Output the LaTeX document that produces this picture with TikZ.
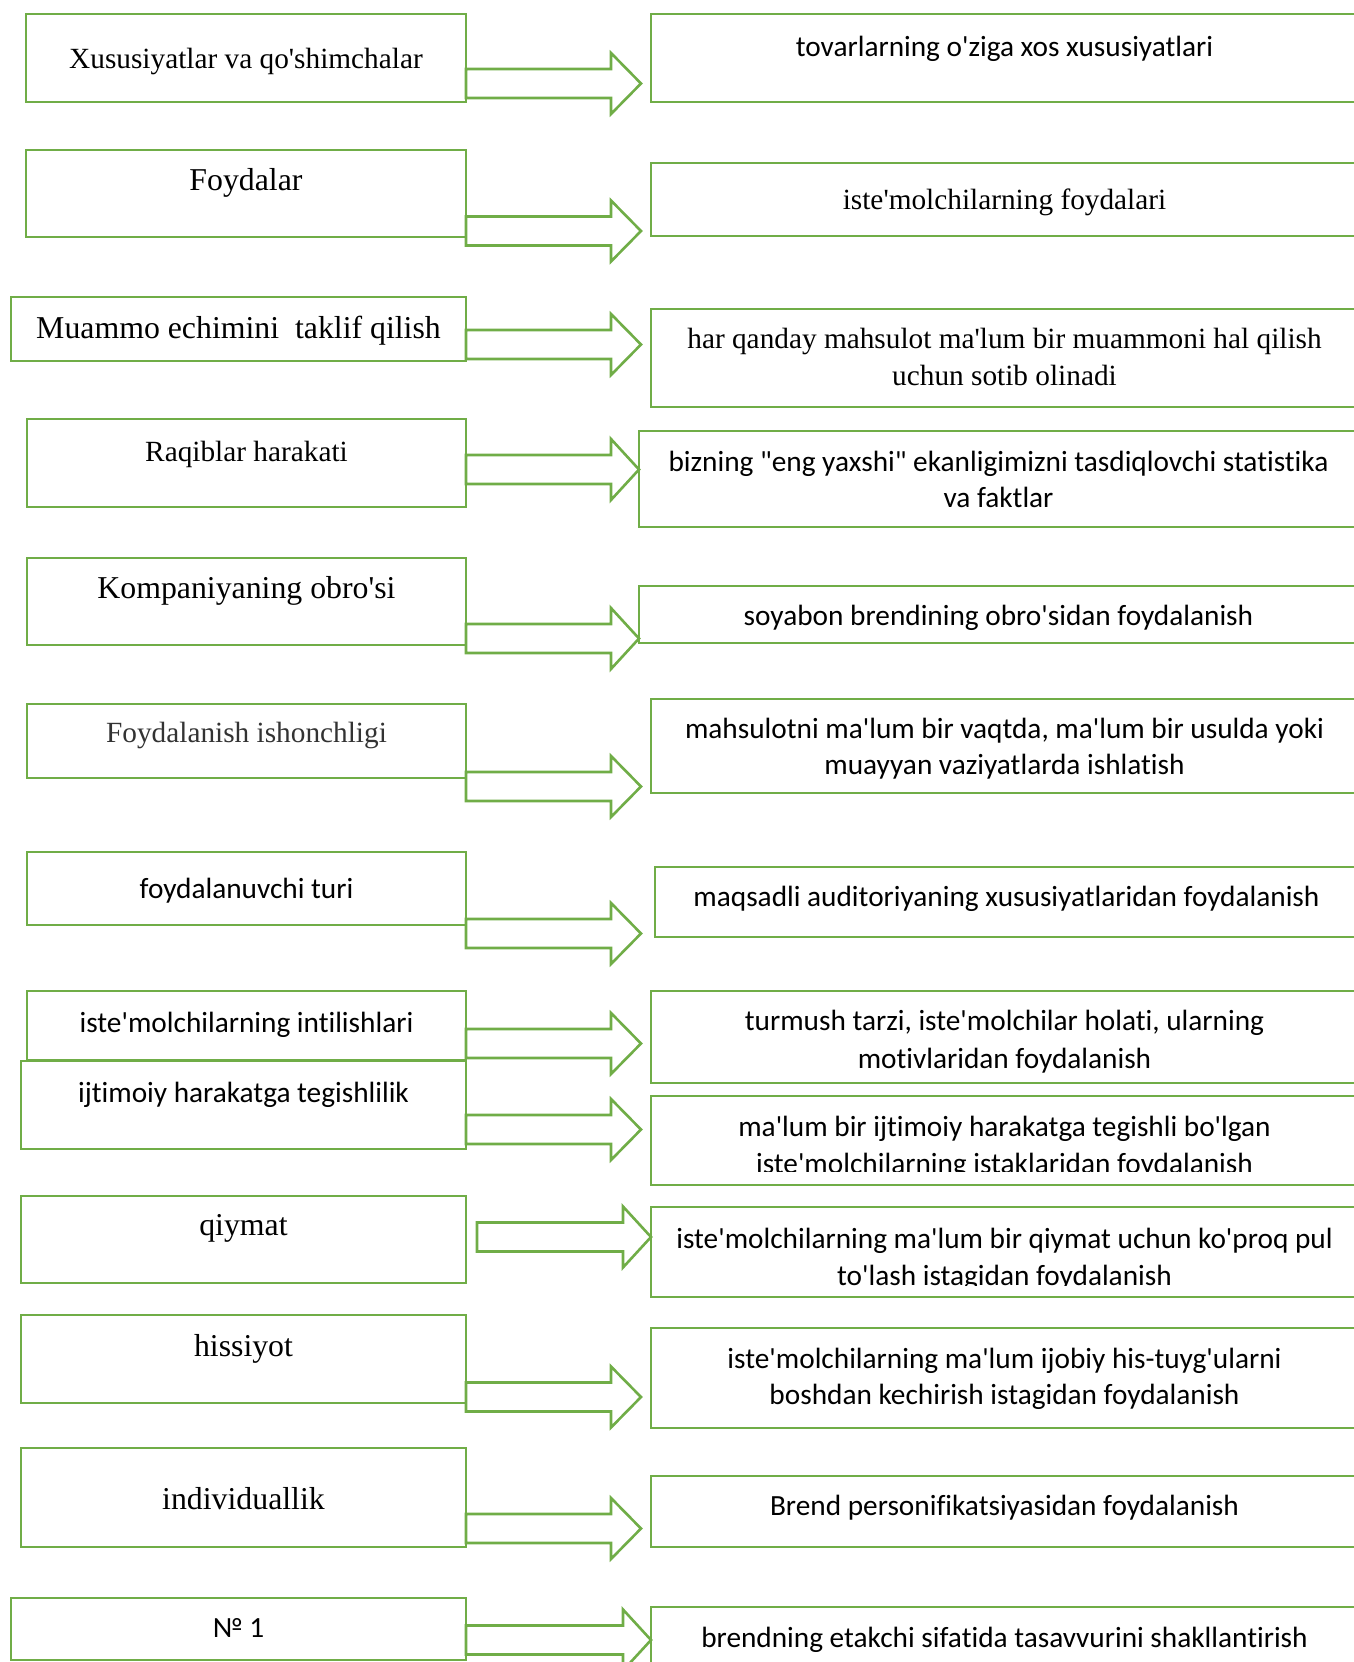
\documentclass[tikz,border=0pt]{standalone}
\usepackage{fontspec}
\usetikzlibrary{calc}
\newfontfamily\tmsfont{Liberation Serif}[Ligatures={TeXOff,NoCommon}]
\newfontfamily\calfont{Carlito}[Ligatures={TeXOff,NoCommon}]
\definecolor{grn}{HTML}{70AD47}
\definecolor{txtgray}{HTML}{333333}

\tikzset{
  box/.style={draw=grn, line width=2.6pt, fill=white, rectangle,
    inner sep=0pt, outer sep=0pt, anchor=north west},
  serA/.style={font=\tmsfont\fontsize{29.3}{36}\selectfont, inner sep=0pt, anchor=base},
  serB/.style={font=\tmsfont\fontsize{31.8}{38}\selectfont, inner sep=0pt, anchor=base},
  san/.style={font=\calfont\fontsize{29.3}{36}\selectfont, inner sep=0pt, anchor=base},
  barrow/.style={draw=grn, line width=2.6pt, fill=white, line join=miter},
}

% block arrow: start point, tip point, head length
\newcommand\blockarrow[3]{%
  \draw[barrow] ($(#1)+(0,-14.5)$) -- ($(#2)+(-#3,-14.5)$) -- ($(#2)+(-#3,-30.5)$)
    -- (#2) -- ($(#2)+(-#3,30.5)$) -- ($(#2)+(-#3,14.5)$) -- ($(#1)+(0,14.5)$) -- cycle;}

\begin{document}
\begin{tikzpicture}[x=1pt, y=-1pt]
\useasboundingbox (0,0) rectangle (1354,1662);
\clip (0,0) rectangle (1354,1662);

% ---- left column ----
\node[box, minimum width=440pt, minimum height=88pt] (L1) at (26,14) {};
\node[box, minimum width=440pt, minimum height=87pt] (L2) at (26,150) {};
\node[box, minimum width=455pt, minimum height=64pt] (L3) at (11,297) {};
\node[box, minimum width=439pt, minimum height=88pt] (L4) at (27,419) {};
\node[box, minimum width=439pt, minimum height=87pt] (L5) at (27,558) {};
\node[box, minimum width=439pt, minimum height=74pt] (L6) at (27,704) {};
\node[box, minimum width=439pt, minimum height=73pt] (L7) at (27,852) {};
\node[box, minimum width=439pt, minimum height=69pt] (L8) at (27,991) {};
\node[box, minimum width=445pt, minimum height=88pt] (L9) at (21,1061) {};
\node[box, minimum width=445pt, minimum height=87pt] (L10) at (21,1196) {};
\node[box, minimum width=445pt, minimum height=88pt] (L11) at (21,1315) {};
\node[box, minimum width=445pt, minimum height=99pt] (L12) at (21,1448) {};
\node[box, minimum width=455pt, minimum height=62pt] (L13) at (11,1598) {};

\node[serA] (L1t) at (L1.north |- 0,68) {Xususiyatlar va qo'shimchalar};
\node[serB] (L2t) at (L2.north |- 0,190) {Foydalar};
\node[serB] (L3t) at (L3.north |- 0,338) {Muammo echimini~ taklif qilish};
\node[serA] (L4t) at (L4.north |- 0,461) {Raqiblar harakati};
\node[serB] (L5t) at (L5.north |- 0,598) {Kompaniyaning obro'si};
\node[serA, text=txtgray] (L6t) at (L6.north |- 0,742) {Foydalanish ishonchligi};
\node[san] (L7t) at (L7.north |- 0,898) {foydalanuvchi turi};
\node[san] (L8t) at (L8.north |- 0,1032) {iste'molchilarning intilishlari};
\node[san] (L9t) at (L9.north |- 0,1102) {ijtimoiy harakatga tegishlilik};
\node[serB] (L10t) at (L10.north |- 0,1235) {qiymat};
\node[serB] (L11t) at (L11.north |- 0,1356) {hissiyot};
\node[serB] (L12t) at (L12.north |- 0,1509) {individuallik};
\node[san] (L13t) at (L13.north |- 0,1637) {№ 1};

% ---- right column ----
\node[box, minimum width=707pt, minimum height=88pt] (R1) at (651,14) {};
\node[box, minimum width=707pt, minimum height=73pt] (R2) at (651,163) {};
\node[box, minimum width=707pt, minimum height=98pt] (R3) at (651,309) {};
\node[box, minimum width=719pt, minimum height=96pt] (R4) at (639,431) {};
\node[box, minimum width=719pt, minimum height=57pt] (R5) at (639,586) {};
\node[box, minimum width=707pt, minimum height=94pt] (R6) at (651,699) {};
\node[box, minimum width=703pt, minimum height=70pt] (R7) at (655,867) {};
\node[box, minimum width=707pt, minimum height=92pt] (R8) at (651,991) {};
\node[box, minimum width=707pt, minimum height=89pt] (R9) at (651,1096) {};
\node[box, minimum width=707pt, minimum height=90pt] (R10) at (651,1207) {};
\node[box, minimum width=707pt, minimum height=100pt] (R11) at (651,1328) {};
\node[box, minimum width=707pt, minimum height=71pt] (R12) at (651,1476) {};
\node[box, minimum width=707pt, minimum height=100pt] (R13) at (651,1607) {};

\node[san] (R1t) at (R1.north |- 0,57) {tovarlarning o'ziga xos xususiyatlari};
\node[serA] (R2t) at (R2.north |- 0,209) {iste'molchilarning foydalari};
\node[serA] (R3a) at (R3.north |- 0,348) {har qanday mahsulot ma'lum bir muammoni hal qilish};
\node[serA] (R3b) at (R3.north |- 0,385) {uchun sotib olinadi};
\node[san] (R4a) at (R4.north |- 0,471) {bizning "eng yaxshi" ekanligimizni tasdiqlovchi statistika};
\node[san] (R4b) at (R4.north |- 0,507) {va faktlar};
\node[san] (R5t) at (R5.north |- 0,625) {soyabon brendining obro'sidan foydalanish};
\node[san] (R6a) at (R6.north |- 0,738) {mahsulotni ma'lum bir vaqtda, ma'lum bir usulda yoki};
\node[san] (R6b) at (R6.north |- 0,774) {muayyan vaziyatlarda ishlatish};
\node[san] (R7t) at (R7.north |- 0,906) {maqsadli auditoriyaning xususiyatlaridan foydalanish};
\node[san] (R8a) at (R8.north |- 0,1030) {turmush tarzi, iste'molchilar holati, ularning};
\node[san] (R8b) at (R8.north |- 0,1068) {motivlaridan foydalanish};
\node[san] (R9a) at (R9.north |- 0,1136) {ma'lum bir ijtimoiy harakatga tegishli bo'lgan};
\begin{scope}
  \clip (651,1140) rectangle (1354,1171);
  \node[san] (R9b) at (R9.north |- 0,1173) {iste'molchilarning istaklaridan foydalanish};
\end{scope}
\node[san] (R10a) at (R10.north |- 0,1248) {iste'molchilarning ma'lum bir qiymat uchun ko'proq pul};
\begin{scope}
  \clip (651,1252) rectangle (1354,1285);
  \node[san] (R10b) at (R10.north |- 0,1285) {to'lash istagidan foydalanish};
\end{scope}
\node[san] (R11a) at (R11.north |- 0,1368) {iste'molchilarning ma'lum ijobiy his-tuyg'ularni};
\node[san] (R11b) at (R11.north |- 0,1404) {boshdan kechirish istagidan foydalanish};
\node[san] (R12t) at (R12.north |- 0,1515) {Brend personifikatsiyasidan foydalanish};
\node[san] (R13t) at (R13.north |- 0,1647) {brendning etakchi sifatida tasavvurini shakllantirish};

% ---- block arrows ----
\coordinate (a1t) at (641,83.5);   \coordinate (a1s) at (L1.east |- a1t);
\coordinate (a2t) at (641,231);    \coordinate (a2s) at (L2.east |- a2t);
\coordinate (a3t) at (641,344.5);  \coordinate (a3s) at (L3.east |- a3t);
\coordinate (a4t) at (639,469.5);  \coordinate (a4s) at (L4.east |- a4t);
\coordinate (a5t) at (639,638.5);  \coordinate (a5s) at (L5.east |- a5t);
\coordinate (a6t) at (641,786.5);  \coordinate (a6s) at (L6.east |- a6t);
\coordinate (a7t) at (641,933.5);  \coordinate (a7s) at (L7.east |- a7t);
\coordinate (a8t) at (641,1043.5); \coordinate (a8s) at (L8.east |- a8t);
\coordinate (a9t) at (641,1129.5); \coordinate (a9s) at (L9.east |- a9t);
\coordinate (a10s) at (477,1237);  \coordinate (a10t) at (R10.west |- a10s);
\coordinate (a11t) at (641,1397);  \coordinate (a11s) at (L11.east |- a11t);
\coordinate (a12t) at (641,1528.5); \coordinate (a12s) at (L12.east |- a12t);
\coordinate (a13t) at (R13.west |- 0,1640); \coordinate (a13s) at (L13.east |- a13t);

\blockarrow{a1s}{a1t}{30}
\blockarrow{a2s}{a2t}{30}
\blockarrow{a3s}{a3t}{30}
\blockarrow{a4s}{a4t}{28}
\blockarrow{a5s}{a5t}{28}
\blockarrow{a6s}{a6t}{30}
\blockarrow{a7s}{a7t}{30}
\blockarrow{a8s}{a8t}{30}
\blockarrow{a9s}{a9t}{30}
\blockarrow{a10s}{a10t}{28}
\blockarrow{a11s}{a11t}{30}
\blockarrow{a12s}{a12t}{30}
\blockarrow{a13s}{a13t}{28}
\end{tikzpicture}
\end{document}
